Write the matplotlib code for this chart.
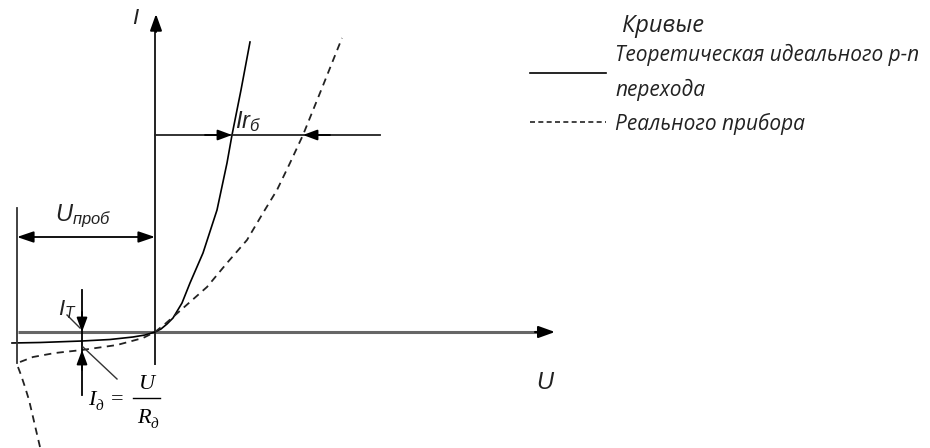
import numpy as np
import matplotlib
matplotlib.use("Agg")
import matplotlib.pyplot as plt

plt.rcParams["mathtext.fontset"] = "custom"
plt.rcParams["mathtext.it"] = "Liberation Sans:italic"
plt.rcParams["mathtext.rm"] = "Liberation Sans"

# Curves in drawing units: U to the right, I upward, origin at the axes crossing
ideal_u = [-143, -115, -73, -45, -22, -10, 0, 6, 12, 18, 27, 35, 48, 62, 72, 77, 86, 95]
ideal_i = [-11, -10.5, -9, -7.5, -5, -3, 0, 3, 8, 14, 29, 49, 79, 122, 169, 197, 242, 290]

real_u = [-115, -119, -122, -126, -130, -134, -137, -135, -122, -100, -73, -38, -12, 0,
          10, 18, 35, 52, 72, 92, 108, 122, 135, 148, 167, 187]
real_i = [-115, -98, -85, -68, -55, -43, -35, -30, -25, -21, -18, -13, -6, 0,
          8, 15, 30, 45, 69, 92, 119, 142, 169, 197, 244, 294]

curve_labels = ["Теоретическая идеального p-n\nперехода", "Реального прибора"]

fig = plt.figure(figsize=(9.3, 4.48), dpi=100)
ax = fig.add_axes([0, 0, 1, 1])
ax.set_xlim(-155, 775)
ax.set_ylim(-116, 332)
ax.axis("off")

BIG_HEAD = "-|>,head_length=0.5,head_width=0.18"
SMALL_HEAD = "-|>,head_length=0.43,head_width=0.16"


def arrow(tip, start, lw=1.3, color="black", style=SMALL_HEAD, ms=20):
    ax.annotate("", xy=tip, xytext=start,
                arrowprops=dict(arrowstyle=style, lw=lw, color=color,
                                shrinkA=0, shrinkB=0, mutation_scale=ms))


# axes
ax.plot([-137, 390], [0, 0], color="#666666", lw=2.2, solid_capstyle="butt")
arrow((400, 0), (380, 0), lw=1.5, style=BIG_HEAD)
ax.plot([0, 0], [-32, 305], color="#222222", lw=1.4)
arrow((1, 318), (1, 300), lw=1.4, style=BIG_HEAD)
ax.text(-20, 314, "I", fontsize=16, style="italic", family="Liberation Sans",
        ha="center", va="center", color="#222222")
ax.text(390, -50, "U", fontsize=17, style="italic", family="Liberation Sans",
        ha="center", va="center", color="#222222")

# curves
ax.plot(ideal_u, ideal_i, color="black", lw=1.2)
ax.plot(real_u, real_i, color="#222222", lw=1.3, linestyle=(0, (4, 3)))

# breakdown voltage dimension
ax.plot([-138, -138], [-31, 124], color="#333333", lw=1.3)
ax.annotate("", xy=(0, 95), xytext=(-138, 95),
            arrowprops=dict(arrowstyle="<|-|>,head_length=0.5,head_width=0.17", lw=1.3,
                            color="black", shrinkA=0, shrinkB=0, mutation_scale=20))
ax.text(-72, 116, r"$U_{проб}$", fontsize=17, ha="center", va="center", color="#222222")

# series resistance dimension
ax.plot([0, 225], [197, 197], color="#222222", lw=1.3)
arrow((77, 197), (50, 197))
arrow((148, 197), (175, 197))
ax.text(93, 210, r"$Ir_{б}$", fontsize=17, ha="center", va="center", color="#222222")

# thermal and leakage currents
ax.plot([-73, -73], [42, -63], color="black", lw=1.3)
arrow((-73, 0), (-73, 20))
arrow((-73, -18), (-73, -38))
ax.plot([-88, -75], [17, 4], color="#333333", lw=1.0)
ax.text(-88, 22, r"$I_{T}$", fontsize=16, ha="center", va="center", color="#222222")
ax.plot([-72, -38], [-15, -47], color="#333333", lw=1.0)

serif = dict(family="Liberation Serif", style="italic", color="black")
ax.text(-63, -68, "I", fontsize=16, ha="center", va="center", **serif)
ax.text(-56, -74, "д", fontsize=11, ha="center", va="center", **serif)
ax.text(-38, -68, "=", fontsize=16, ha="center", va="center",
        family="Liberation Serif", color="black")
ax.text(-8, -52, "U", fontsize=16, ha="center", va="center", **serif)
ax.plot([-22, 5], [-66, -66], color="black", lw=1.0)
ax.text(-11, -86, "R", fontsize=16, ha="center", va="center", **serif)
ax.text(-1, -92, "д", fontsize=11, ha="center", va="center", **serif)

# key
sans_it = dict(family="Open Sans", style="italic", color="#222222")
ax.text(467, 306, "Кривые", fontsize=17, ha="left", va="center", **sans_it)
ax.plot([375, 451], [259, 259], color="black", lw=1.2)
ax.text(460, 277, curve_labels[0].split("\n")[0], fontsize=15, ha="left", va="center", **sans_it)
ax.text(460, 242, curve_labels[0].split("\n")[1], fontsize=15, ha="left", va="center", **sans_it)
ax.plot([375, 451], [210, 210], color="#222222", lw=1.2, linestyle=(0, (3, 2)))
ax.text(460, 208, curve_labels[1], fontsize=15, ha="left", va="center", **sans_it)

fig.savefig("out.png", dpi=100)
